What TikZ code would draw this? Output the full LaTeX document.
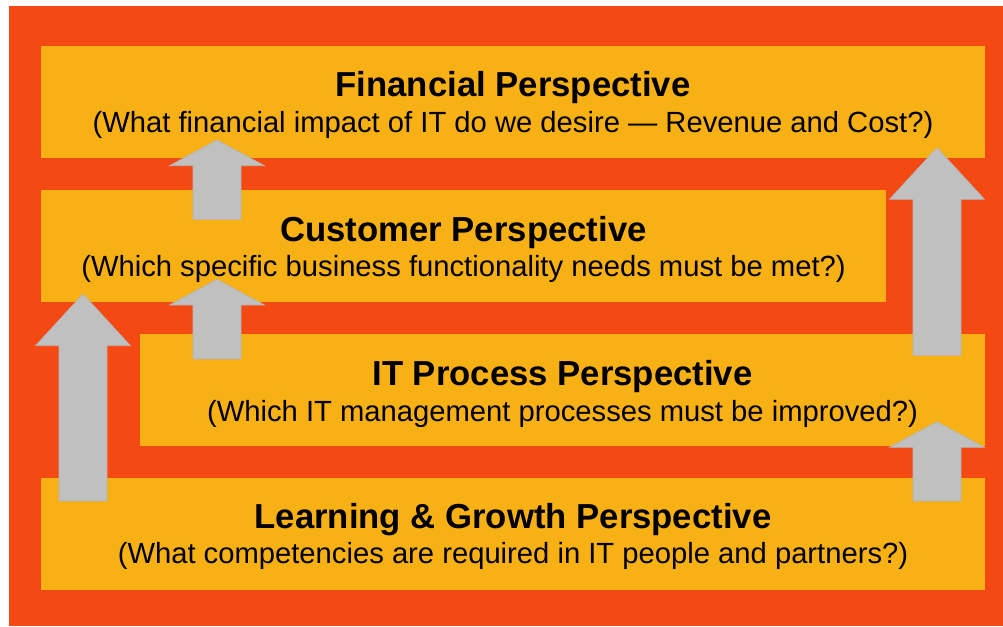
\documentclass[tikz,border=0pt]{standalone}
\usepackage{fontspec}
\setmainfont{Liberation Sans}
\definecolor{bgorange}{HTML}{F54914}
\definecolor{boxyellow}{HTML}{F8B114}
\definecolor{arrowgray}{HTML}{C0C0C0}
\definecolor{arrowedge}{HTML}{B4B4B4}
\tikzset{
  persp/.style={fill=boxyellow, draw=none},
  ttl/.style={anchor=base, inner sep=0pt, font=\fontsize{34.7}{40}\selectfont\bfseries},
  sub/.style={anchor=base, inner sep=0pt, font=\fontsize{29.2}{34}\selectfont},
  blockarrow/.style={fill=arrowgray, draw=arrowedge, line width=0.6pt, line join=miter}
}
\newcommand{\upblock}[4]{% center x, bottom y, head base y, tip y
  \path[blockarrow] (#1-24,#2) -- (#1-24,#3) -- (#1-47.5,#3) -- (#1,#4) -- (#1+47.5,#3) -- (#1+24,#3) -- (#1+24,#2) -- cycle;
}
\begin{document}
\begin{tikzpicture}[x=1pt,y=-1pt]
\useasboundingbox (0,0) rectangle (1003,626);
\fill[white] (0,0) rectangle (1003,626);
\fill[bgorange] (9,6) rectangle (1003,626);
% boxes
\path[persp] (41,46) rectangle (985,157.5) node[pos=0.5] (fin) {};
\path[persp] (41,190) rectangle (886,302) node[pos=0.5] (cus) {};
\path[persp] (140,334) rectangle (985,445.5) node[pos=0.5] (itp) {};
\path[persp] (41,477.5) rectangle (985,590) node[pos=0.5] (lrn) {};
% texts
\node[ttl] (finT) at (513,96.5) {Financial Perspective};
\node[sub] (finS) at (513,132) {(What financial impact of IT do we desire — Revenue and Cost?)};
\node[ttl] (cusT) at (463.5,241) {Customer Perspective};
\node[sub] (cusS) at (463.5,276.5) {(Which specific business functionality needs must be met?)};
\node[ttl] (itpT) at (562.5,385) {IT Process Perspective};
\node[sub] (itpS) at (562.5,421) {(Which IT management processes must be improved?)};
\node[ttl] (lrnT) at (513,528.8) {Learning \& Growth Perspective};
\node[sub] (lrnS) at (513,563.5) {(What competencies are required in IT people and partners?)};
% arrows
\upblock{217}{219.3}{165.7}{140}
\upblock{217}{359}{305}{279.3}
\upblock{83}{501}{345.7}{294}
\upblock{937}{355.3}{199.3}{147.7}
\upblock{937}{501}{447.3}{421.7}
\end{tikzpicture}
\end{document}
